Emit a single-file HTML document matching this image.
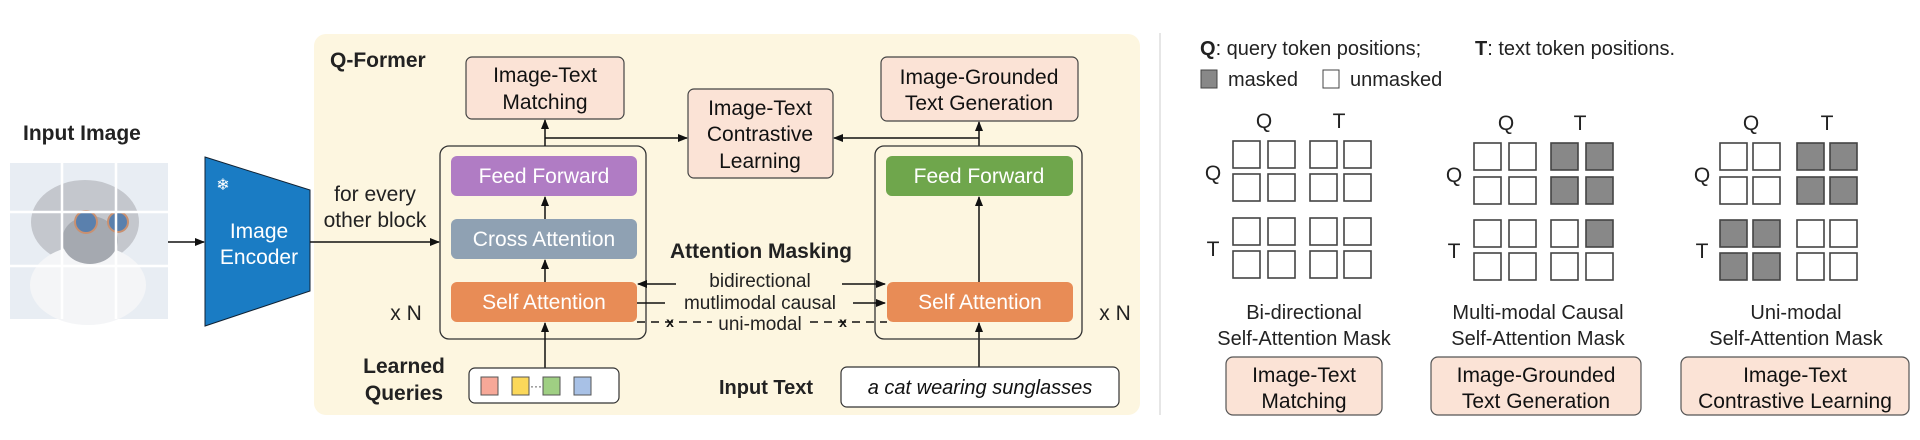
<!DOCTYPE html>
<html><head><meta charset="utf-8"><style>
html,body{margin:0;padding:0;background:#fff;}
svg{display:block;font-family:"Liberation Sans",sans-serif;}
</style></head><body>
<svg width="1920" height="440" viewBox="0 0 1920 440" xmlns="http://www.w3.org/2000/svg">
<defs>
<marker id="ah" markerWidth="10" markerHeight="8" refX="9" refY="4" orient="auto" markerUnits="userSpaceOnUse">
<path d="M0,0 L10,4 L0,8 Z" fill="#111"/></marker>
</defs>

<!-- Input image -->
<text x="23" y="140" font-size="21" font-weight="bold" fill="#222">Input Image</text>
<rect x="10" y="163" width="158" height="156" fill="#e8edf3"/>
<ellipse cx="85" cy="222" rx="54" ry="42" fill="#c4c7cd"/>
<ellipse cx="88" cy="285" rx="58" ry="40" fill="#f4f5f7"/>
<ellipse cx="90" cy="240" rx="28" ry="24" fill="#a5a9b0"/>
<circle cx="86" cy="222" r="11" fill="#5a80ad" stroke="#c99070" stroke-width="2"/>
<circle cx="118" cy="222" r="10" fill="#5a80ad" stroke="#c99070" stroke-width="2"/>
<g stroke="#fff" stroke-width="2.5"><line x1="62" y1="163" x2="62" y2="319"/><line x1="116" y1="163" x2="116" y2="319"/>
<line x1="10" y1="212" x2="168" y2="212"/><line x1="10" y1="266" x2="168" y2="266"/></g>
<line x1="168" y1="242" x2="204" y2="242" stroke="#111" stroke-width="1.5" marker-end="url(#ah)"/>

<!-- Encoder -->
<polygon points="205,157 310,190 310,291 205,326" fill="#1a7cc4" stroke="#123" stroke-width="1"/>
<text x="223" y="190" font-size="16" fill="#fff" text-anchor="middle">❄</text>
<text x="259" y="238" font-size="21" fill="#fff" text-anchor="middle">Image</text>
<text x="259" y="264" font-size="21" fill="#fff" text-anchor="middle">Encoder</text>

<!-- Q-Former panel -->
<rect x="314" y="34" width="826" height="381" rx="12" fill="#fdf6e0"/>
<text x="330" y="67" font-size="21" font-weight="bold" fill="#222">Q-Former</text>
<text x="375" y="201" font-size="21" fill="#222" text-anchor="middle">for every</text>
<text x="375" y="227" font-size="21" fill="#222" text-anchor="middle">other block</text>
<line x1="310" y1="242" x2="439" y2="242" stroke="#111" stroke-width="1.5" marker-end="url(#ah)"/>

<!-- left block -->
<rect x="440" y="146" width="206" height="193" rx="9" fill="none" stroke="#333" stroke-width="1.3"/>
<rect x="451" y="156" width="186" height="40" rx="6" fill="#b07cc4"/>
<text x="544" y="183" font-size="21" fill="#fff" text-anchor="middle">Feed Forward</text>
<rect x="451" y="219" width="186" height="40" rx="6" fill="#8fa1b3"/>
<text x="544" y="246" font-size="21" fill="#fff" text-anchor="middle">Cross Attention</text>
<rect x="451" y="282" width="186" height="40" rx="6" fill="#e88c56"/>
<text x="544" y="309" font-size="21" fill="#fff" text-anchor="middle">Self Attention</text>
<g stroke="#111" stroke-width="1.5" fill="none">
<line x1="545" y1="219" x2="545" y2="197" marker-end="url(#ah)"/>
<line x1="545" y1="282" x2="545" y2="260" marker-end="url(#ah)"/>
<line x1="545" y1="368" x2="545" y2="323" marker-end="url(#ah)"/>
<line x1="545" y1="146" x2="545" y2="120" marker-end="url(#ah)"/>
<line x1="545" y1="138" x2="687" y2="138" marker-end="url(#ah)"/>
<line x1="979" y1="146" x2="979" y2="122" marker-end="url(#ah)"/>
<line x1="979" y1="138" x2="834" y2="138" marker-end="url(#ah)"/>
<line x1="979" y1="282" x2="979" y2="197" marker-end="url(#ah)"/>
<line x1="979" y1="367" x2="979" y2="323" marker-end="url(#ah)"/>
</g>
<text x="406" y="320" font-size="21" fill="#222" text-anchor="middle">x N</text>

<!-- task boxes top -->
<rect x="466" y="57" width="158" height="62" rx="6" fill="#fbe3d6" stroke="#444" stroke-width="1.2"/>
<text x="545" y="82" font-size="21" fill="#111" text-anchor="middle">Image-Text</text>
<text x="545" y="109" font-size="21" fill="#111" text-anchor="middle">Matching</text>
<rect x="688" y="89" width="145" height="89" rx="6" fill="#fbe3d6" stroke="#444" stroke-width="1.2"/>
<text x="760" y="115" font-size="21" fill="#111" text-anchor="middle">Image-Text</text>
<text x="760" y="141" font-size="21" fill="#111" text-anchor="middle">Contrastive</text>
<text x="760" y="168" font-size="21" fill="#111" text-anchor="middle">Learning</text>
<rect x="881" y="57" width="197" height="64" rx="6" fill="#fbe3d6" stroke="#444" stroke-width="1.2"/>
<text x="979" y="84" font-size="21" fill="#111" text-anchor="middle">Image-Grounded</text>
<text x="979" y="110" font-size="21" fill="#111" text-anchor="middle">Text Generation</text>

<!-- right block -->
<rect x="875" y="146" width="207" height="193" rx="9" fill="none" stroke="#333" stroke-width="1.3"/>
<rect x="886" y="156" width="187" height="40" rx="6" fill="#6fa64c"/>
<text x="979" y="183" font-size="21" fill="#fff" text-anchor="middle">Feed Forward</text>
<rect x="887" y="282" width="186" height="40" rx="6" fill="#e88c56"/>
<text x="980" y="309" font-size="21" fill="#fff" text-anchor="middle">Self Attention</text>
<text x="1115" y="320" font-size="21" fill="#222" text-anchor="middle">x N</text>

<!-- attention masking -->
<text x="761" y="258" font-size="21" font-weight="bold" fill="#222" text-anchor="middle">Attention Masking</text>
<text x="760" y="287" font-size="19" fill="#222" text-anchor="middle">bidirectional</text>
<text x="760" y="309" font-size="19" fill="#222" text-anchor="middle">mutlimodal causal</text>
<text x="760" y="330" font-size="19" fill="#222" text-anchor="middle">uni-modal</text>
<g stroke="#111" stroke-width="1.5" fill="none">
<line x1="676" y1="284" x2="638" y2="284" marker-end="url(#ah)"/>
<line x1="842" y1="284" x2="885" y2="284" marker-end="url(#ah)"/>
<line x1="637" y1="303" x2="665" y2="303"/>
<line x1="853" y1="303" x2="885" y2="303" marker-end="url(#ah)"/>
<line x1="637" y1="322" x2="712" y2="322" stroke-dasharray="8,6"/>
<line x1="810" y1="322" x2="887" y2="322" stroke-dasharray="8,6"/>
</g>
<text x="670" y="327" font-size="14" font-weight="bold" fill="#111" text-anchor="middle">x</text>
<text x="843" y="327" font-size="14" font-weight="bold" fill="#111" text-anchor="middle">x</text>

<!-- learned queries -->
<text x="404" y="373" font-size="21" font-weight="bold" fill="#222" text-anchor="middle">Learned</text>
<text x="404" y="400" font-size="21" font-weight="bold" fill="#222" text-anchor="middle">Queries</text>
<rect x="469" y="368" width="150" height="35" rx="6" fill="#fff" stroke="#333" stroke-width="1.2"/>
<rect x="481" y="377" width="17" height="18" fill="#f7a898" stroke="#555"/>
<rect x="512" y="377" width="17" height="18" fill="#fbd85a" stroke="#555"/>
<text x="536" y="390" font-size="12" fill="#333" text-anchor="middle">···</text>
<rect x="543" y="377" width="17" height="18" fill="#9fcf83" stroke="#555"/>
<rect x="574" y="377" width="17" height="18" fill="#a8c1e6" stroke="#555"/>

<!-- input text -->
<text x="719" y="394" font-size="20" font-weight="bold" fill="#222">Input Text</text>
<rect x="841" y="367" width="278" height="40" rx="6" fill="#fff" stroke="#333" stroke-width="1.2"/>
<text x="980" y="394" font-size="20" font-style="italic" fill="#111" text-anchor="middle">a cat wearing sunglasses</text>

<!-- divider -->
<line x1="1160" y1="33" x2="1160" y2="415" stroke="#ddd" stroke-width="1.5"/>

<!-- right panel -->
<text x="1200" y="55" font-size="20" fill="#222"><tspan font-weight="bold">Q</tspan>: query token positions;</text>
<text x="1475" y="55" font-size="20" fill="#222"><tspan font-weight="bold">T</tspan>: text token positions.</text>
<rect x="1201" y="70" width="16" height="18" fill="#888" stroke="#444"/>
<text x="1228" y="86" font-size="20" fill="#222">masked</text>
<rect x="1323" y="70" width="16" height="18" fill="#fff" stroke="#444"/>
<text x="1350" y="86" font-size="20" fill="#222">unmasked</text>

<g font-size="21" fill="#222" text-anchor="middle">
<text x="1264" y="128">Q</text><text x="1339" y="128">T</text>
<text x="1213" y="180">Q</text><text x="1213" y="256">T</text>
<text x="1506" y="130">Q</text><text x="1580" y="130">T</text>
<text x="1454" y="182">Q</text><text x="1454" y="258">T</text>
<text x="1751" y="130">Q</text><text x="1827" y="130">T</text>
<text x="1702" y="182">Q</text><text x="1702" y="258">T</text>
</g>
<g stroke="#444" stroke-width="1.6" fill="#fff">
<rect x="1233" y="141" width="27" height="27"/><rect x="1268" y="141" width="27" height="27"/><rect x="1310" y="141" width="27" height="27"/><rect x="1344" y="141" width="27" height="27"/>
<rect x="1233" y="174" width="27" height="27"/><rect x="1268" y="174" width="27" height="27"/><rect x="1310" y="174" width="27" height="27"/><rect x="1344" y="174" width="27" height="27"/>
<rect x="1233" y="218" width="27" height="27"/><rect x="1268" y="218" width="27" height="27"/><rect x="1310" y="218" width="27" height="27"/><rect x="1344" y="218" width="27" height="27"/>
<rect x="1233" y="251" width="27" height="27"/><rect x="1268" y="251" width="27" height="27"/><rect x="1310" y="251" width="27" height="27"/><rect x="1344" y="251" width="27" height="27"/>
<rect x="1474" y="143" width="27" height="27"/><rect x="1509" y="143" width="27" height="27"/><rect x="1551" y="143" width="27" height="27" fill="#888"/><rect x="1586" y="143" width="27" height="27" fill="#888"/>
<rect x="1474" y="177" width="27" height="27"/><rect x="1509" y="177" width="27" height="27"/><rect x="1551" y="177" width="27" height="27" fill="#888"/><rect x="1586" y="177" width="27" height="27" fill="#888"/>
<rect x="1474" y="220" width="27" height="27"/><rect x="1509" y="220" width="27" height="27"/><rect x="1551" y="220" width="27" height="27"/><rect x="1586" y="220" width="27" height="27" fill="#888"/>
<rect x="1474" y="253" width="27" height="27"/><rect x="1509" y="253" width="27" height="27"/><rect x="1551" y="253" width="27" height="27"/><rect x="1586" y="253" width="27" height="27"/>
<rect x="1720" y="143" width="27" height="27"/><rect x="1753" y="143" width="27" height="27"/><rect x="1797" y="143" width="27" height="27" fill="#888"/><rect x="1830" y="143" width="27" height="27" fill="#888"/>
<rect x="1720" y="177" width="27" height="27"/><rect x="1753" y="177" width="27" height="27"/><rect x="1797" y="177" width="27" height="27" fill="#888"/><rect x="1830" y="177" width="27" height="27" fill="#888"/>
<rect x="1720" y="220" width="27" height="27" fill="#888"/><rect x="1753" y="220" width="27" height="27" fill="#888"/><rect x="1797" y="220" width="27" height="27"/><rect x="1830" y="220" width="27" height="27"/>
<rect x="1720" y="253" width="27" height="27" fill="#888"/><rect x="1753" y="253" width="27" height="27" fill="#888"/><rect x="1797" y="253" width="27" height="27"/><rect x="1830" y="253" width="27" height="27"/>
</g>

<g font-size="20" fill="#222" text-anchor="middle">
<text x="1304" y="319">Bi-directional</text>
<text x="1304" y="345">Self-Attention Mask</text>
<text x="1538" y="319">Multi-modal Causal</text>
<text x="1538" y="345">Self-Attention Mask</text>
<text x="1796" y="319">Uni-modal</text>
<text x="1796" y="345">Self-Attention Mask</text>
</g>
<rect x="1226" y="357" width="156" height="58" rx="7" fill="#fbe3d6" stroke="#555" stroke-width="1.2"/>
<rect x="1431" y="357" width="210" height="58" rx="7" fill="#fbe3d6" stroke="#555" stroke-width="1.2"/>
<rect x="1681" y="357" width="228" height="58" rx="7" fill="#fbe3d6" stroke="#555" stroke-width="1.2"/>
<g font-size="21" fill="#111" text-anchor="middle">
<text x="1304" y="382">Image-Text</text><text x="1304" y="408">Matching</text>
<text x="1536" y="382">Image-Grounded</text><text x="1536" y="408">Text Generation</text>
<text x="1795" y="382">Image-Text</text><text x="1795" y="408">Contrastive Learning</text>
</g>
</svg>
</body></html>
